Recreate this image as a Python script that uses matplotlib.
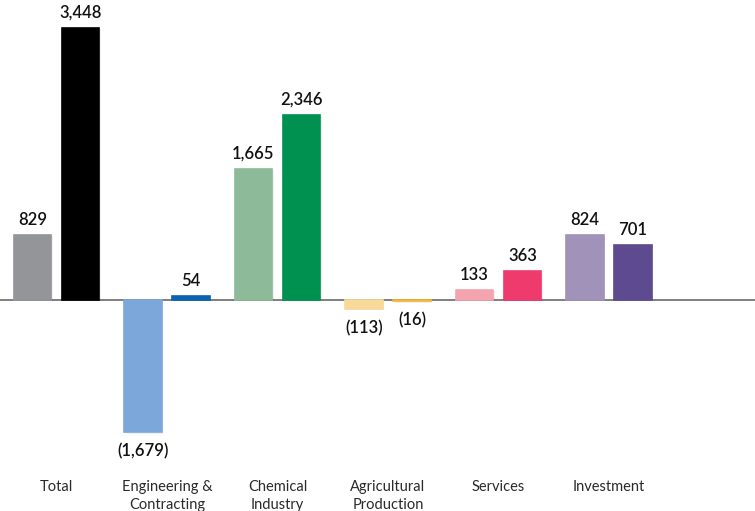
import matplotlib
matplotlib.use("Agg")
import matplotlib.pyplot as plt
import matplotlib.patheffects as pe
from matplotlib.transforms import blended_transform_factory

# segment results, prior year vs current year
categories = ["Total", "Engineering &\nContracting", "Chemical\nIndustry",
              "Agricultural\nProduction", "Services", "Investment"]
prev_values = [829, -1679, 1665, -113, 133, 824]
curr_values = [3448, 54, 2346, -16, 363, 701]
prev_colors = ["#939598", "#7ba7da", "#8dbb9a", "#f8d99a", "#f4a4ae", "#a192ba"]
curr_colors = ["#000000", "#0a62b0", "#009150", "#f3b634", "#ee3a6c", "#5e4a8e"]


def fmt(v):
    s = "{:,}".format(abs(v))
    return "(" + s + ")" if v < 0 else s


plt.rcParams["font.family"] = ["Lato", "DejaVu Sans"]

fig = plt.figure(figsize=(7.55, 5.11), dpi=100)
ax = fig.add_axes([0, 0, 1, 1])

offset = 0.2175
width = 0.34
shadow = [pe.SimplePatchShadow(offset=(1, -1), shadow_rgbFace="#000000", alpha=0.06), pe.Normal()]

for i in range(len(categories)):
    for x, v, c in [(i - offset, prev_values[i], prev_colors[i]),
                    (i + offset, curr_values[i], curr_colors[i])]:
        bar = ax.bar(x, v, width=width, color=c, edgecolor=c, linewidth=1.2, zorder=2)
        for p in bar:
            p.set_path_effects(shadow)
        if v >= 0:
            ax.annotate(fmt(v), (x, v), xytext=(0, 5), textcoords="offset points",
                        ha="center", va="bottom", fontsize=12, fontweight="semibold",
                        color="#111111")
        else:
            ax.annotate(fmt(v), (x, v), xytext=(0, -8), textcoords="offset points",
                        ha="center", va="top", fontsize=12, fontweight="semibold",
                        color="#111111")

# baseline sits under the bars so small negative bars stay visible
ax.axhline(0, color="#7f7f7f", lw=1.4, zorder=1)

trans = blended_transform_factory(ax.transData, ax.transAxes)
for i, name in enumerate(categories):
    ax.text(i, 0.061, name, transform=trans, ha="center", va="top",
            fontsize=10.5, color="#2a2a2a", linespacing=1.35)

ax.set_xlim(-0.511, 6.321)
ax.set_ylim(-2674, 3802)
ax.axis("off")

fig.savefig("out.png", dpi=100)
